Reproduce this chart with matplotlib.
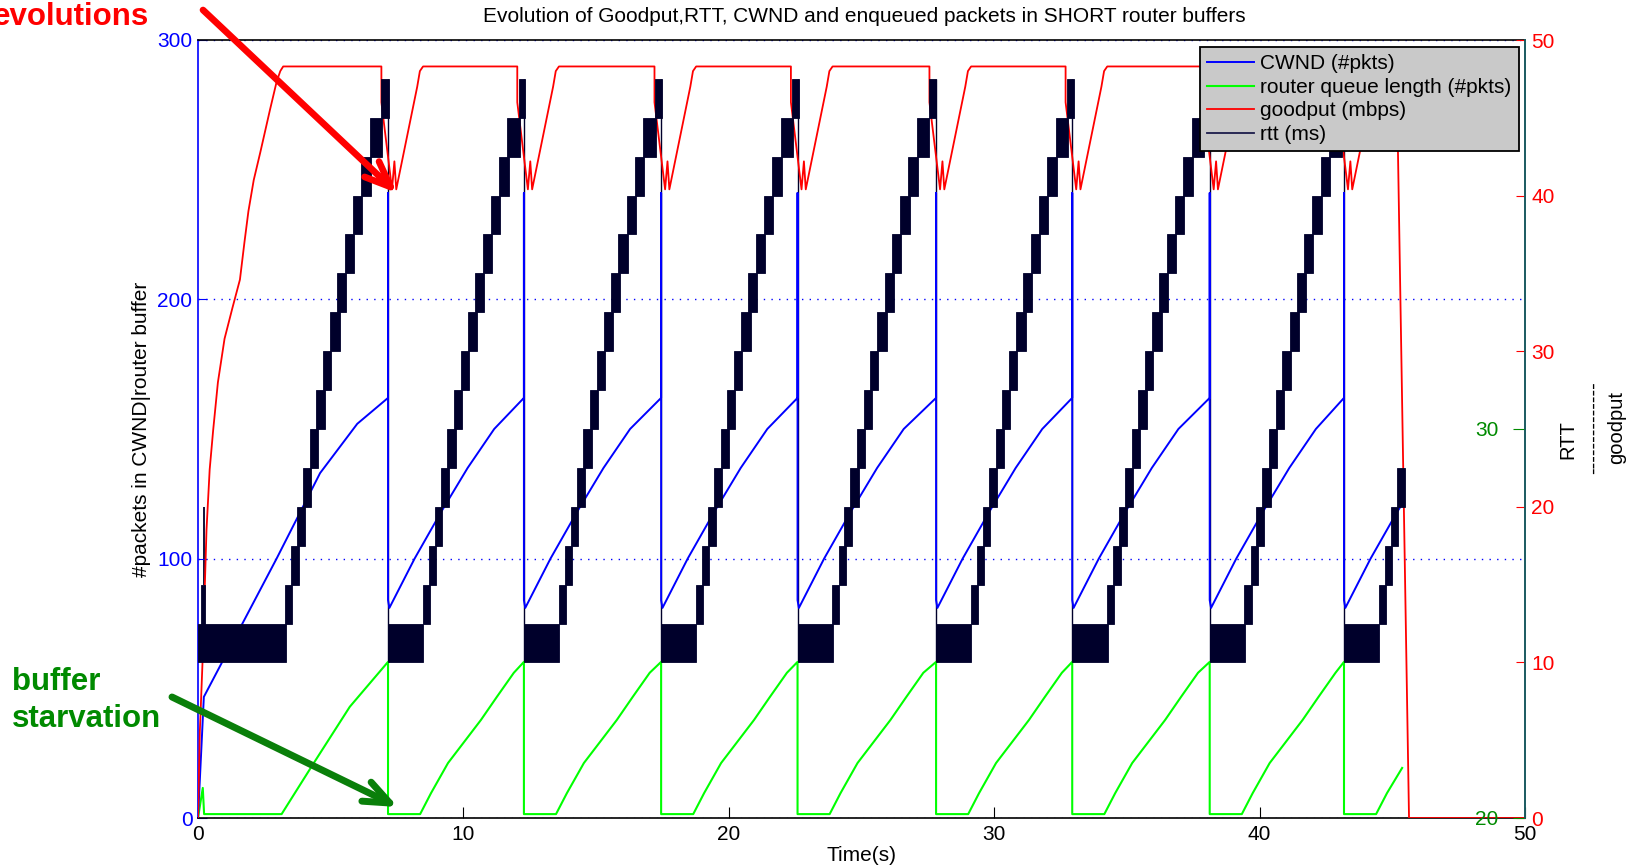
import matplotlib
matplotlib.use("Agg")
import matplotlib.pyplot as plt

plt.rcParams['font.family'] = ['Liberation Sans', 'DejaVu Sans']

# time of each window reduction (s)
t_drop = [7.16, 12.28, 17.45, 22.59, 27.81, 32.94, 38.12, 43.18]
t_end = 45.37

# CWND (#pkts): slow start, then shape after every drop
cwnd_ss_t = [0.0, 0.22, 2.96, 4.6, 6.0]
cwnd_ss_v = [0, 46.7, 100, 133, 152]
cwnd_cyc_dt = [0.0, 0.0, 0.0, 0.05, 1.0, 2.0, 3.0, 4.0]
cwnd_cyc_v = [162, 241, 84, 81, 100, 118, 135, 150]
cwnd_last = 121

# router queue length (#pkts)
q_ss_t = [0.0, 0.18, 0.23, 3.15, 4.35, 5.72]
q_ss_v = [0, 11.6, 1.5, 1.5, 21, 42.9]
q_cyc_dt = [0.0, 0.0, 1.21, 1.62, 2.26, 3.5, 4.1, 4.74]
q_cyc_v = [60.2, 1.5, 1.5, 9.6, 21.2, 37.8, 46.7, 56]
q_last = 19.3

# goodput (mbps)
gp_ss_t = [0.0, 0.07, 0.17, 0.32, 0.44, 0.57, 0.75, 1.0, 1.3, 1.58, 1.75, 1.9,
           2.1, 2.35, 2.55, 2.71, 2.96, 3.1, 3.21]
gp_ss_v = [0, 5.6, 10, 18.5, 22.4, 24.9, 28.0, 30.8, 32.8, 34.6, 37.0, 39.0,
           41.0, 42.8, 44.3, 45.5, 47.3, 48.0, 48.3]
gp_cyc_dt = [-0.25, -0.25, 0.15, 0.24, 0.31, 1.1, 1.2, 1.32]
gp_cyc_v = [48.3, 46.0, 40.4, 42.2, 40.4, 47.0, 48.0, 48.3]
gp_tail_t = [45.16, 45.63, 50.0]
gp_tail_v = [48.3, 0, 0]

# rtt: band while the queue is empty, then staircase
rtt_lo, rtt_hi = 60, 75
rtt_top = 285
band_len = 1.33
first_band_end = 3.3
rtt_steps = [75, 90, 105, 120, 135, 150, 165, 180, 195, 210, 225, 240, 255, 270]
step_dt0 = [-0.02, 0.215, 0.43, 0.655, 0.91, 1.16, 1.41, 1.68, 1.95, 2.23, 2.54, 2.85, 3.17, 3.61]
step_dt1 = [0.25, 0.49, 0.72, 0.97, 1.22, 1.47, 1.72, 2.04, 2.29, 2.58, 2.89, 3.21, 3.64, 3.88]
step_h = 15
rtt_init = (0.13, 0.26, 75, 90, 120)   # first spike: t0, t1, lo, hi, peak
rtt_stop = 45.44

navy = '#00002b'
teal = '#1a5a60'
dkgreen = '#008a00'
FS = 15

# --- build the series
def periodic(ss_t, ss_v, dts, vals, last):
    t, v = list(ss_t), list(ss_v)
    for i, td in enumerate(t_drop):
        nxt = t_drop[i + 1] if i + 1 < len(t_drop) else t_end
        for dt, val in zip(dts, vals):
            if td + dt < nxt:
                t.append(td + dt)
                v.append(val)
    t.append(t_end)
    v.append(last)
    return t, v

cw_t, cw_v = periodic(cwnd_ss_t, cwnd_ss_v, cwnd_cyc_dt, cwnd_cyc_v, cwnd_last)
q_t, q_v = periodic(q_ss_t, q_ss_v, q_cyc_dt, q_cyc_v, q_last)

gp_t, gp_v = list(gp_ss_t), list(gp_ss_v)
for td in t_drop:
    gp_t += [td + dt for dt in gp_cyc_dt]
    gp_v += gp_cyc_v
gp_t += gp_tail_t
gp_v += gp_tail_v

bx, bw, bb, bh = [], [], [], []
band_start = [0.0] + t_drop
band_end = [first_band_end] + [td + band_len for td in t_drop]
limits = t_drop + [rtt_stop]
for s, e, lim in zip(band_start, band_end, limits):
    bx.append(s)
    bw.append(e - s)
    bb.append(rtt_lo)
    bh.append(rtt_hi - rtt_lo)
    for lo, d0, d1 in zip(rtt_steps, step_dt0, step_dt1):
        if e + d0 >= lim - 0.1:
            continue
        bx.append(e + d0)
        bw.append(min(e + d1, lim + 0.05) - (e + d0))
        bb.append(lo)
        bh.append(step_h)

# --- figure
fig = plt.figure(figsize=(16.33, 8.68), dpi=100)
ax = fig.add_axes([198 / 1633, 50 / 868, 1327 / 1633, 778 / 868])
ax_r = ax.twinx()
ax_g = ax.twinx()
ax_t = ax.twinx()

ax.vlines(t_drop, rtt_lo, rtt_top, color=navy, lw=1.0, zorder=1)
ax.vlines(rtt_init[1] - 0.03, rtt_init[3], rtt_init[4], color=navy, lw=1.3, zorder=1)
l_cw, = ax.plot(cw_t, cw_v, color='#0000ff', lw=1.4, label='CWND (#pkts)', zorder=3)
l_q, = ax.plot(q_t, q_v, color='#00ff00', lw=1.5, label='router queue length (#pkts)', zorder=2)
l_gp, = ax_r.plot(gp_t, gp_v, color='#ff0000', lw=1.3, label='goodput (mbps)')

ax_t.bar(bx, bh, width=bw, bottom=bb, align='edge', color=navy,
         edgecolor=navy, linewidth=0.6)
ax_t.bar([rtt_init[0]], [rtt_init[3] - rtt_init[2]], width=[rtt_init[1] - rtt_init[0]],
         bottom=[rtt_init[2]], align='edge', color=navy, edgecolor=navy, linewidth=0.6)
l_rtt = plt.Line2D([], [], color='#1c1c4a', lw=1.3, label='rtt (ms)')

# axes and ticks
ax.set_xlim(0, 50)
ax.set_ylim(0, 300)
ax.set_xticks([0, 10, 20, 30, 40, 50])
ax.set_yticks([0, 100, 200, 300])
ax.yaxis.grid(True, color='blue', linestyle=(0, (1, 4.5)), linewidth=1.0)
ax.tick_params(axis='y', direction='in', colors='blue', length=6.5, labelsize=FS, pad=4)
ax.tick_params(axis='x', direction='in', length=8, labelsize=FS, pad=5)
ax.spines['left'].set_color('blue')
ax.spines['right'].set_visible(False)
for s in ('left', 'right', 'top', 'bottom'):
    ax.spines[s].set_linewidth(1.2)

ax_r.set_ylim(0, 50)
ax_r.set_yticks([0, 10, 20, 30, 40, 50])
ax_r.tick_params(axis='y', direction='in', colors='red', length=6.5, labelsize=FS, pad=4.5)
for s in ('left', 'top', 'bottom'):
    ax_r.spines[s].set_visible(False)
ax_r.spines['right'].set_color(teal)
ax_r.spines['right'].set_linewidth(1.2)

ax_g.set_ylim(20, 40)
ax_g.set_yticks([20, 30])
ax_g.tick_params(axis='y', direction='in', colors=dkgreen, length=9, labelsize=FS, pad=-19)
for lab in ax_g.get_yticklabels():
    lab.set_horizontalalignment('right')
for s in ('left', 'top', 'bottom'):
    ax_g.spines[s].set_visible(False)
ax_g.spines['right'].set_color(teal)
ax_g.spines['right'].set_linewidth(1.2)

ax_t.set_ylim(0, 300)
ax_t.set_xlim(0, 50)
ax_t.axis('off')

ax.set_ylabel('#packets in CWND|router buffer', fontsize=FS)
ax.yaxis.set_label_coords(-47 / 1327, 0.5)
ax.set_xlabel('Time(s)', fontsize=FS)
ax.xaxis.set_label_coords(0.5, -28 / 778)

fig.text(864 / 1633, 1 - 17 / 868, 'Evolution of Goodput,RTT, CWND and enqueued packets in SHORT router buffers',
         ha='center', va='center', fontsize=15)

fig.text(1568 / 1633, 1 - 440 / 868, 'RTT', rotation=90, ha='center', va='center', fontsize=14.5)
fig.text(1593 / 1633, 1 - 428 / 868, '-' * 14, rotation=90, ha='center', va='center', fontsize=14.5)
fig.text(1617 / 1633, 1 - 428 / 868, 'goodput', rotation=90, ha='center', va='center', fontsize=14.5)

leg = ax_t.legend(handles=[l_cw, l_q, l_gp, l_rtt], loc='upper right',
                  bbox_to_anchor=(1321 / 1327, (818 - 47) / 778), borderaxespad=0,
                  fontsize=FS, handlelength=2.25, handletextpad=0.3, labelspacing=0.22,
                  borderpad=0.35, fancybox=False,
                  framealpha=1, facecolor='#c9c9c9', edgecolor='black')
leg.get_frame().set_linewidth(1.3)

# annotations
fig.text(149 / 1633, 1 - 25 / 868, 'evolutions', color='red', fontsize=22.5,
         fontweight='bold', ha='right', va='baseline')
fig.text(12 / 1633, 1 - 690 / 868, 'buffer', color=dkgreen, fontsize=22.5,
         fontweight='bold', ha='left', va='baseline')
fig.text(12 / 1633, 1 - 727 / 868, 'starvation', color=dkgreen, fontsize=22.5,
         fontweight='bold', ha='left', va='baseline')

ax_t.annotate('', xy=(397, 868 - 193), xycoords='figure pixels',
              xytext=(203, 868 - 10), textcoords='figure pixels',
              arrowprops=dict(arrowstyle='->,head_length=0.93,head_width=0.38',
                              color='red', lw=4.8, mutation_scale=20,
                              shrinkA=0, shrinkB=0),
              annotation_clip=False)
ax_t.annotate('', xy=(398, 868 - 807), xycoords='figure pixels',
              xytext=(172, 868 - 697), textcoords='figure pixels',
              arrowprops=dict(arrowstyle='->,head_length=0.93,head_width=0.38',
                              color='#0a7f0a', lw=5, mutation_scale=20,
                              shrinkA=0, shrinkB=0),
              annotation_clip=False)

fig.savefig('out.png', dpi=100)
